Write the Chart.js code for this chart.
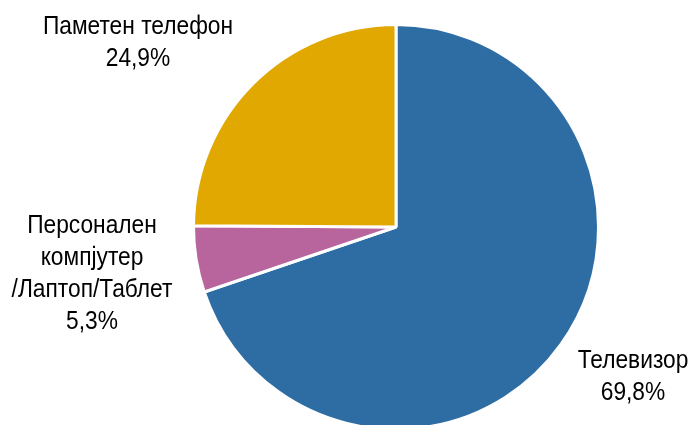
<!DOCTYPE html>
<html>
<head>
<meta charset="utf-8">
<script src="https://cdn.jsdelivr.net/npm/chart.js@4"></script>
<style>
  html, body { margin: 0; padding: 0; background: #fff; overflow: hidden; }
  #wrap { position: relative; width: 697px; height: 432px; }
</style>
</head>
<body>
<div id="wrap"><canvas id="pieChart"></canvas></div>
<script>
const categories = ['Телевизор', 'Персонален компјутер /Лаптоп/Таблет', 'Паметен телефон'];
const labelLines = [['Телевизор'], ['Персонален', 'компјутер', '/Лаптоп/Таблет'], ['Паметен телефон']];
const shares = [69.8, 5.3, 24.9];
const colors = ['#2E6DA4', '#B8659D', '#E0A800'];

// label anchor offsets from pie centre (x centre of text, first baseline)
const labelOffsets = [[237, 141], [-304, 6], [-258, -193]];

const FONT = '"Liberation Sans Narrow", "Arial Narrow", "Liberation Sans", Arial, sans-serif';
const SQUEEZE = 0.91; // the original uses a condensed face

const labelPlugin = {
    id: 'sliceLabels',
    afterDraw: function (chart) {
        const ctx = chart.ctx;
        const meta = chart.getDatasetMeta(0);
        meta.data.forEach(function (arc, i) {
            const lines = labelLines[i].concat([shares[i].toFixed(1).replace('.', ',') + '%']);
            const x = arc.x + labelOffsets[i][0];
            let y = arc.y + labelOffsets[i][1];
            lines.forEach(function (line) {
                ctx.save();
                ctx.translate(x, y);
                ctx.scale(SQUEEZE, 1);
                ctx.fillStyle = '#000';
                ctx.font = '25px ' + FONT;
                ctx.textAlign = 'center';
                ctx.textBaseline = 'alphabetic';
                ctx.fillText(line, 0, 0);
                ctx.restore();
                y += 32;
            });
        });
    },
};

new Chart(document.getElementById('pieChart'), {
    type: 'pie',
    data: {
        labels: categories,
        datasets: [{
            data: shares,
            backgroundColor: colors,
            borderColor: '#ffffff',
            borderWidth: 3,
        }],
    },
    options: {
        responsive: true,
        maintainAspectRatio: false,
        animation: false,
        radius: 202.5,
        layout: { padding: { top: 25, bottom: 3, left: 192, right: 97 } },
        plugins: {
            legend: { display: false },
            tooltip: { enabled: false },
        },
    },
    plugins: [labelPlugin],
});
</script>
</body>
</html>
